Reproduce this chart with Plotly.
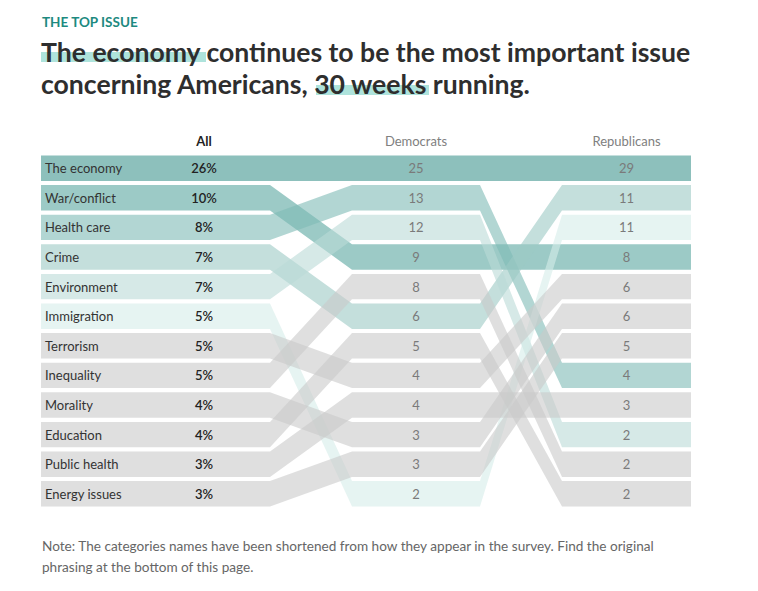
import plotly.graph_objects as go

# ---------------- data ----------------
categories = ["The economy", "War/conflict", "Health care", "Crime", "Environment",
              "Immigration", "Terrorism", "Inequality", "Morality", "Education",
              "Public health", "Energy issues"]
all_pct = [26, 10, 8, 7, 7, 5, 5, 5, 4, 4, 3, 3]
dem_pct = [25, 9, 13, 6, 12, 2, 4, 8, 3, 5, 4, 3]
rep_pct = [29, 8, 4, 11, 2, 11, 6, 2, 6, 2, 3, 5]
column_titles = ["All", "Democrats", "Republicans"]

# ---------------- style ----------------
W, H = 758, 591
FONT = "Lato"
OPACITY = 0.6
band_colors = ["#41968f", "#5aa7a0", "#7fbbb6", "#9dcac5", "#bbdad7", "#d5ede9"] + ["#cacaca"] * 6

def rgba(i):
    h = band_colors[i].lstrip("#")
    r, g, b = int(h[0:2], 16), int(h[2:4], 16), int(h[4:6], 16)
    return f"rgba({r},{g},{b},{OPACITY})"

# column geometry (layout, pixels)
COLS = [(41, 270), (352, 480), (562, 691)]
ROW0, PITCH = 168.2, 29.6
HALF = 12.7 / PITCH
TXT_DY = 1.8 / PITCH   # small baseline nudge for text

def ranks(vals):
    order = sorted(range(len(vals)), key=lambda i: -vals[i])
    r = [0] * len(vals)
    for pos, i in enumerate(order):
        r[i] = pos
    return r

r_all, r_dem, r_rep = ranks(all_pct), ranks(dem_pct), ranks(rep_pct)

fig = go.Figure()

# bars + ribbons as a single polygon per category
for i in range(len(categories)):
    rr = [r_all[i], r_dem[i], r_rep[i]]
    xs, ys = [], []
    for (x0, x1), r in zip(COLS, rr):
        xs += [x0, x1]
        ys += [r - HALF, r - HALF]
    for (x0, x1), r in reversed(list(zip(COLS, rr))):
        xs += [x1, x0]
        ys += [r + HALF, r + HALF]
    fig.add_trace(go.Scatter(x=xs + [xs[0]], y=ys + [ys[0]], mode="lines", fill="toself",
                             fillcolor=rgba(i), line=dict(width=0), hoverinfo="skip",
                             showlegend=False))

def ty(rs):
    return [r + TXT_DY for r in rs]

# category labels
fig.add_trace(go.Scatter(x=[COLS[0][0] + 4] * len(categories), y=ty(r_all), mode="text",
                         text=categories, textposition="middle right",
                         textfont=dict(family=FONT, size=13, color="#333"),
                         hoverinfo="skip", showlegend=False))
# values
cx = [(a + b) / 2 for a, b in COLS]
cx[0] = 204
fig.add_trace(go.Scatter(x=[cx[0]] * len(all_pct), y=ty(r_all), mode="text",
                         text=[f"{v}%" for v in all_pct], textposition="middle center",
                         textfont=dict(family=FONT, size=13, color="#222", weight=600),
                         hoverinfo="skip", showlegend=False))
fig.add_trace(go.Scatter(x=[cx[1]] * len(dem_pct), y=ty(r_dem), mode="text",
                         text=[str(v) for v in dem_pct], textposition="middle center",
                         textfont=dict(family=FONT, size=13, color="#7a7a7a"),
                         hoverinfo="skip", showlegend=False))
fig.add_trace(go.Scatter(x=[cx[2]] * len(rep_pct), y=ty(r_rep), mode="text",
                         text=[str(v) for v in rep_pct], textposition="middle center",
                         textfont=dict(family=FONT, size=13, color="#7a7a7a"),
                         hoverinfo="skip", showlegend=False))
# column headers
hdr_y = (141 - ROW0) / PITCH + TXT_DY
fig.add_trace(go.Scatter(x=cx, y=[hdr_y] * 3, mode="text", text=column_titles,
                         textposition="middle center",
                         textfont=dict(family=FONT, size=13, color=["#222", "#808080", "#808080"],
                                       weight=[700, 400, 400]),
                         hoverinfo="skip", showlegend=False))

def py(p):
    return 1 - p / H

def px(p):
    return p / W

TITLE_SIZE = 26.6
annos = [
    dict(text="THE TOP ISSUE", x=px(40), y=py(22), font=dict(family=FONT, size=13.5, color="#1d8a80", weight=700)),
    dict(text="The economy continues to be the most important issue", x=px(39), y=py(52),
         font=dict(family=FONT, size=TITLE_SIZE, color="#2e2e2e", weight=700)),
    dict(text="concerning Americans, 30 weeks running.", x=px(39), y=py(84),
         font=dict(family=FONT, size=TITLE_SIZE, color="#2e2e2e", weight=700)),
    dict(text="Note: The categories names have been shortened from how they appear in the survey. Find the original",
         x=px(40), y=py(546), font=dict(family=FONT, size=13.6, color="#666")),
    dict(text="phrasing at the bottom of this page.", x=px(40), y=py(567),
         font=dict(family=FONT, size=13.6, color="#666")),
]
for a in annos:
    fig.add_annotation(xref="paper", yref="paper", xanchor="left", yanchor="middle",
                       showarrow=False, **a)

# title highlights
for x0, x1, y0, y1 in [(41, 206, 52, 62), (316, 429, 85, 95)]:
    fig.add_shape(type="rect", xref="paper", yref="paper", x0=px(x0), x1=px(x1),
                  y0=py(y1), y1=py(y0), fillcolor="#aee3dc", line=dict(width=0), layer="below")

fig.update_layout(
    width=W, height=H, margin=dict(l=0, r=0, t=0, b=0),
    paper_bgcolor="white", plot_bgcolor="white",
    xaxis=dict(range=[0, W], visible=False, fixedrange=True),
    yaxis=dict(range=[(H - ROW0) / PITCH, -ROW0 / PITCH], visible=False, fixedrange=True),
    showlegend=False,
)
fig.write_html("out.html")
